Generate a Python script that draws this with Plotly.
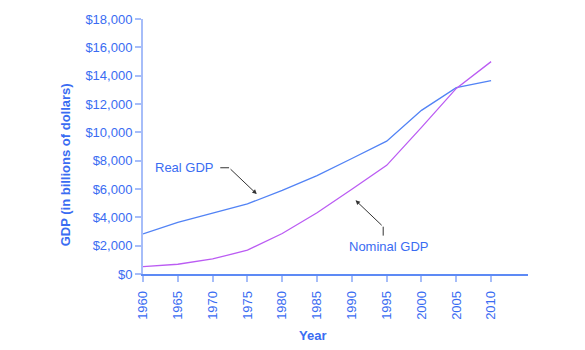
import plotly.graph_objects as go

years = [1960, 1965, 1970, 1975, 1980, 1985, 1990, 1995, 2000, 2005, 2010]
real_gdp = [2830, 3650, 4300, 4950, 5900, 6950, 8150, 9380, 11550, 13150, 13650]
nominal_gdp = [520, 690, 1060, 1680, 2860, 4320, 5980, 7670, 10350, 13100, 14990]
y_ticks = list(range(0, 18001, 2000))
y_labels = ["$" + format(v, ",") for v in y_ticks]

BLUE_TXT = "#3a6cf2"
FONT = "Liberation Sans, Arial, sans-serif"

fig = go.Figure()
fig.add_trace(go.Scatter(x=years, y=real_gdp, mode="lines",
                         line=dict(color="#5283f5", width=1.3), name="Real GDP"))
fig.add_trace(go.Scatter(x=years, y=nominal_gdp, mode="lines",
                         line=dict(color="#bb5cf3", width=1.3), name="Nominal GDP"))

fig.update_layout(
    width=585, height=350,
    margin=dict(l=143, r=57, t=13, b=76),
    plot_bgcolor="white", paper_bgcolor="white",
    showlegend=False,
    font=dict(family=FONT, size=13, color=BLUE_TXT),
    xaxis=dict(range=[1960, 2015.3], tickvals=years, ticktext=[str(y) for y in years],
               tickangle=-90, showgrid=False, zeroline=False,
               showline=True, linecolor="#5d8af5", linewidth=1.5,
               ticks="outside", ticklen=6, tickcolor="#a6bdf9", tickwidth=2,
               ticklabelstandoff=4,
               tickfont=dict(size=13, color=BLUE_TXT)),
    yaxis=dict(range=[0, 18000], tickvals=y_ticks, ticktext=y_labels,
               showgrid=False, zeroline=False,
               showline=True, linecolor="#a6bdf9", linewidth=2,
               ticks="outside", ticklen=6, tickcolor="#a6bdf9", tickwidth=2,
               tickfont=dict(size=13, color=BLUE_TXT)),
)

# axis titles
fig.add_annotation(text="<b>GDP (in billions of dollars)</b>", xref="paper", yref="paper",
                   x=-0.2026, y=0.43, textangle=-90, showarrow=False,
                   font=dict(size=13, color=BLUE_TXT), xanchor="center", yanchor="middle")
fig.add_annotation(text="<b>Year</b>", xref="paper", yref="paper",
                   x=0.439, y=-0.241, showarrow=False,
                   font=dict(size=13, color=BLUE_TXT), xanchor="center", yanchor="middle")

# Real GDP label
fig.add_annotation(text="Real GDP", x=1965.9, y=7500, showarrow=False,
                   font=dict(size=13, color=BLUE_TXT))
fig.add_shape(type="line", x0=1971.1, y0=7500, x1=1972.36, y1=7500,
              line=dict(color="#333333", width=1))
fig.add_annotation(text="", x=1976.34, y=5640, ax=1972.36, ay=7500,
                   axref="x", ayref="y", showarrow=True,
                   arrowhead=2, arrowsize=0.9, arrowwidth=1, arrowcolor="#333333")

# Nominal GDP label
fig.add_annotation(text="Nominal GDP", x=1995.27, y=1975, showarrow=False,
                   font=dict(size=13, color=BLUE_TXT))
fig.add_shape(type="line", x0=1994.5, y0=2710, x1=1994.5, y1=3340,
              line=dict(color="#333333", width=1))
fig.add_annotation(text="", x=1990.53, y=5200, ax=1994.5, ay=3340,
                   axref="x", ayref="y", showarrow=True,
                   arrowhead=2, arrowsize=0.9, arrowwidth=1, arrowcolor="#333333")

fig.write_html("out.html")
